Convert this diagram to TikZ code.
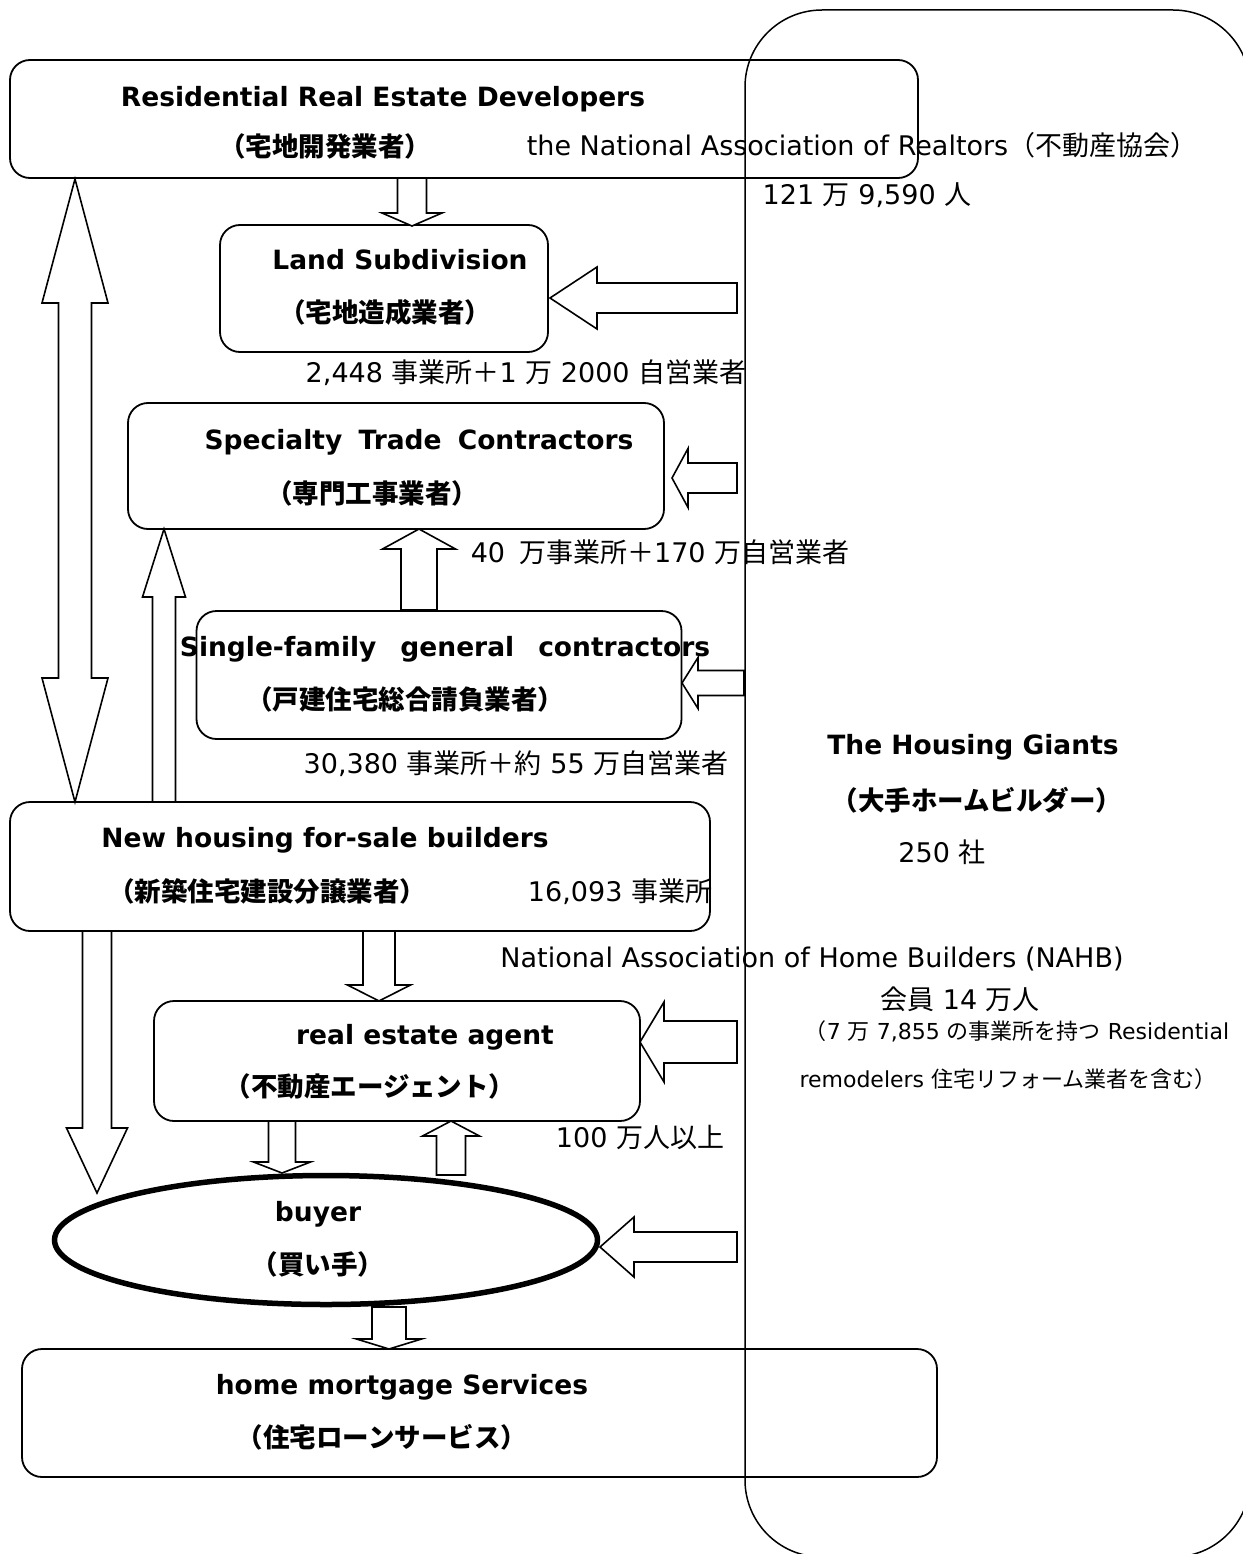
\documentclass[tikz,border=0pt]{standalone}
\usepackage{fontspec}
\setmainfont{DejaVu Sans}
\newfontfamily\jp{Noto Sans CJK JP}
\newcommand\J[1]{{\jp #1}}
\usetikzlibrary{calc,shapes.geometric}
% block arrow: #1 tail, #2 tip, #3 shaft half width, #4 head half width, #5 head length
\newcommand\blockarrow[5]{%
  \path ($(#2)!#5!(#1)$) coordinate (bah);
  \draw[barrow] ($(#1)!#3!90:(#2)$) -- ($(bah)!#3!90:(#2)$) -- ($(bah)!#4!90:(#2)$) -- (#2)
    -- ($(bah)!#4!-90:(#2)$) -- ($(bah)!#3!-90:(#2)$) -- ($(#1)!#3!-90:(#2)$) -- cycle;}
% double block arrow: #1 tip, #2 tip
\newcommand\dblarrow[5]{%
  \path ($(#1)!#5!(#2)$) coordinate (dah1) ($(#2)!#5!(#1)$) coordinate (dah2);
  \draw[barrow] (#1) -- ($(dah1)!#4!90:(#2)$) -- ($(dah1)!#3!90:(#2)$) -- ($(dah2)!#3!-90:(#1)$)
    -- ($(dah2)!#4!-90:(#1)$) -- (#2) -- ($(dah2)!#4!90:(#1)$) -- ($(dah2)!#3!90:(#1)$)
    -- ($(dah1)!#3!-90:(#2)$) -- ($(dah1)!#4!-90:(#2)$) -- cycle;}
\begin{document}
\begin{tikzpicture}[x=1pt,y=-1pt,
  box/.style={draw, line width=1.8pt, rounded corners=20pt, inner sep=0pt},
  barrow/.style={draw, fill=white, line width=1.6pt, line join=miter},
  tb/.style={inner sep=0pt, text height=21pt, text depth=2pt, font=\fontsize{26.5}{30}\selectfont\bfseries},
  tr/.style={inner sep=0pt, text height=21pt, text depth=2pt, font=\fontsize{27}{30}\selectfont},
  ts/.style={inner sep=0pt, text height=17pt, text depth=2pt, font=\fontsize{22}{26}\selectfont}]

\useasboundingbox (0,0) rectangle (1242,1554);
\fill[white] (0,0) rectangle (1242,1554);

% boxes
\node[box, minimum width=908pt, minimum height=118pt] (dev) at (464,119) {};
\node[box, minimum width=328pt, minimum height=127pt] (land) at (384,288.5) {};
\node[box, minimum width=536pt, minimum height=126pt] (spec) at (396,466) {};
\node[box, minimum width=485pt, minimum height=128pt] (single) at (439,675) {};
\node[box, minimum width=700pt, minimum height=129pt] (newh) at (360,866.5) {};
\node[box, minimum width=486pt, minimum height=120pt] (agent) at (397,1061) {};
\node[draw, ellipse, line width=5.5pt, minimum width=543pt, minimum height=129pt, inner sep=0pt] (buyer) at (326,1240) {};
\node[box, minimum width=915pt, minimum height=128pt] (mort) at (479.5,1413) {};
\node[draw, line width=1.5pt, rounded corners=77pt, minimum width=505pt, minimum height=1547pt, inner sep=0pt] (giants) at (997.5,783.5) {};

% arrow end points
\coordinate (a1s) at (412,178);  \coordinate (a1t) at (412,226);
\coordinate (d1) at (75,179);    \coordinate (d2) at (75,802);
\coordinate (a2s) at (164,802);  \coordinate (a2t) at (164,529);
\coordinate (a3s) at (419,610);  \coordinate (a3t) at (419,529);
\coordinate (a4s) at (737,298);  \coordinate (a4t) at (550,298);
\coordinate (a5s) at (737,478);  \coordinate (a5t) at (672,478);
\coordinate (a6s) at (744,683);  \coordinate (a6t) at (682,683);
\coordinate (a7s) at (737,1042); \coordinate (a7t) at (640,1042);
\coordinate (a8s) at (737,1247); \coordinate (a8t) at (600,1247);
\coordinate (a9s) at (379,931);  \coordinate (a9t) at (379,1001);
\coordinate (a10s) at (97,931);  \coordinate (a10t) at (97,1193);
\coordinate (a11s) at (282,1121); \coordinate (a11t) at (282,1173);
\coordinate (a12s) at (451,1175); \coordinate (a12t) at (451,1121);
\coordinate (a13s) at (389,1307); \coordinate (a13t) at (389,1349);

% arrows
\blockarrow{a1s}{a1t}{14.5pt}{30pt}{13pt}
\dblarrow{d1}{d2}{16.5pt}{33pt}{124pt}
\blockarrow{a2s}{a2t}{11.5pt}{21.5pt}{68pt}
\blockarrow{a3s}{a3t}{18pt}{36.5pt}{20pt}
\blockarrow{a4s}{a4t}{15pt}{31pt}{47pt}
\blockarrow{a5s}{a5t}{15pt}{29.5pt}{16pt}
\blockarrow{a6s}{a6t}{12.5pt}{25.5pt}{16pt}
\blockarrow{a7s}{a7t}{21pt}{40pt}{24pt}
\blockarrow{a8s}{a8t}{15pt}{30pt}{34pt}
\blockarrow{a9s}{a9t}{16pt}{31.5pt}{16pt}
\blockarrow{a10s}{a10t}{14.5pt}{30.5pt}{65pt}
\blockarrow{a11s}{a11t}{13.5pt}{28.5pt}{11pt}
\blockarrow{a12s}{a12t}{14.5pt}{28.5pt}{15pt}
\blockarrow{a13s}{a13t}{17pt}{32.5pt}{10pt}

% texts
\node[tb] (t1) at (383,97) {Residential Real Estate Developers};
\node[tb] (t2) at (325,147) {\J{（宅地開発業者）}};
\node[tr] (t3) at (862,146) {the National Association of Realtors\J{（不動産協会）}};
\node[tr] (t4) at (867,195) {121 \J{万} 9,590 \J{人}};
\node[tb] (t5) at (400,260) {Land Subdivision};
\node[tb] (t6) at (385,313) {\J{（宅地造成業者）}};
\node[tr] (t7) at (526,373) {2,448 \J{事業所＋}1 \J{万} 2000 \J{自営業者}};
\node[tb] (t8) at (419,440) {Specialty\hspace{7pt} Trade\hspace{7pt} Contractors};
\node[tb] (t9) at (372,494) {\J{（専門工事業者）}};
\node[tr] (t10) at (660,553) {40\hspace{14pt}\J{万事業所＋}170 \J{万自営業者}};
\node[tb] (t11) at (445,647) {Single-family\hspace{24pt}general\hspace{24pt}contractors};
\node[tb] (t12) at (405,700) {\J{（戸建住宅総合請負業者）}};
\node[tr] (t13) at (516,764) {30,380 \J{事業所＋約} 55 \J{万自営業者}};
\node[tb] (t14) at (325,838) {New housing for-sale builders};
\node[tb] (t15) at (267,892) {\J{（新築住宅建設分譲業者）}};
\node[tr] (t16) at (620,892) {16,093 \J{事業所}};
\node[tr] (t17) at (812,958) {National Association of Home Builders (NAHB)};
\node[tr] (t18) at (960,1000) {\J{会員} 14 \J{万人}};
\node[ts] (t19) at (1017,1032) {\J{（}7 \J{万} 7,855 \J{の事業所を持つ} Residential};
\node[ts] (t20) at (1008,1080) {remodelers \J{住宅リフォーム業者を含む）}};
\node[tb] (t21) at (425,1035) {real estate agent};
\node[tb] (t22) at (370,1087) {\J{（不動産エージェント）}};
\node[tr] (t23) at (640,1138) {100 \J{万人以上}};
\node[tb] (t24) at (318,1212) {buyer};
\node[tb] (t25) at (318,1265) {\J{（買い手）}};
\node[tb] (t26) at (402,1385) {home mortgage Services};
\node[tb] (t27) at (382,1438) {\J{（住宅ローンサービス）}};
\node[tb] (t28) at (973,745) {The Housing Giants};
\node[tb] (t29) at (977,801) {\J{（大手ホームビルダー）}};
\node[tr] (t30) at (942,853) {250 \J{社}};
\end{tikzpicture}
\end{document}
